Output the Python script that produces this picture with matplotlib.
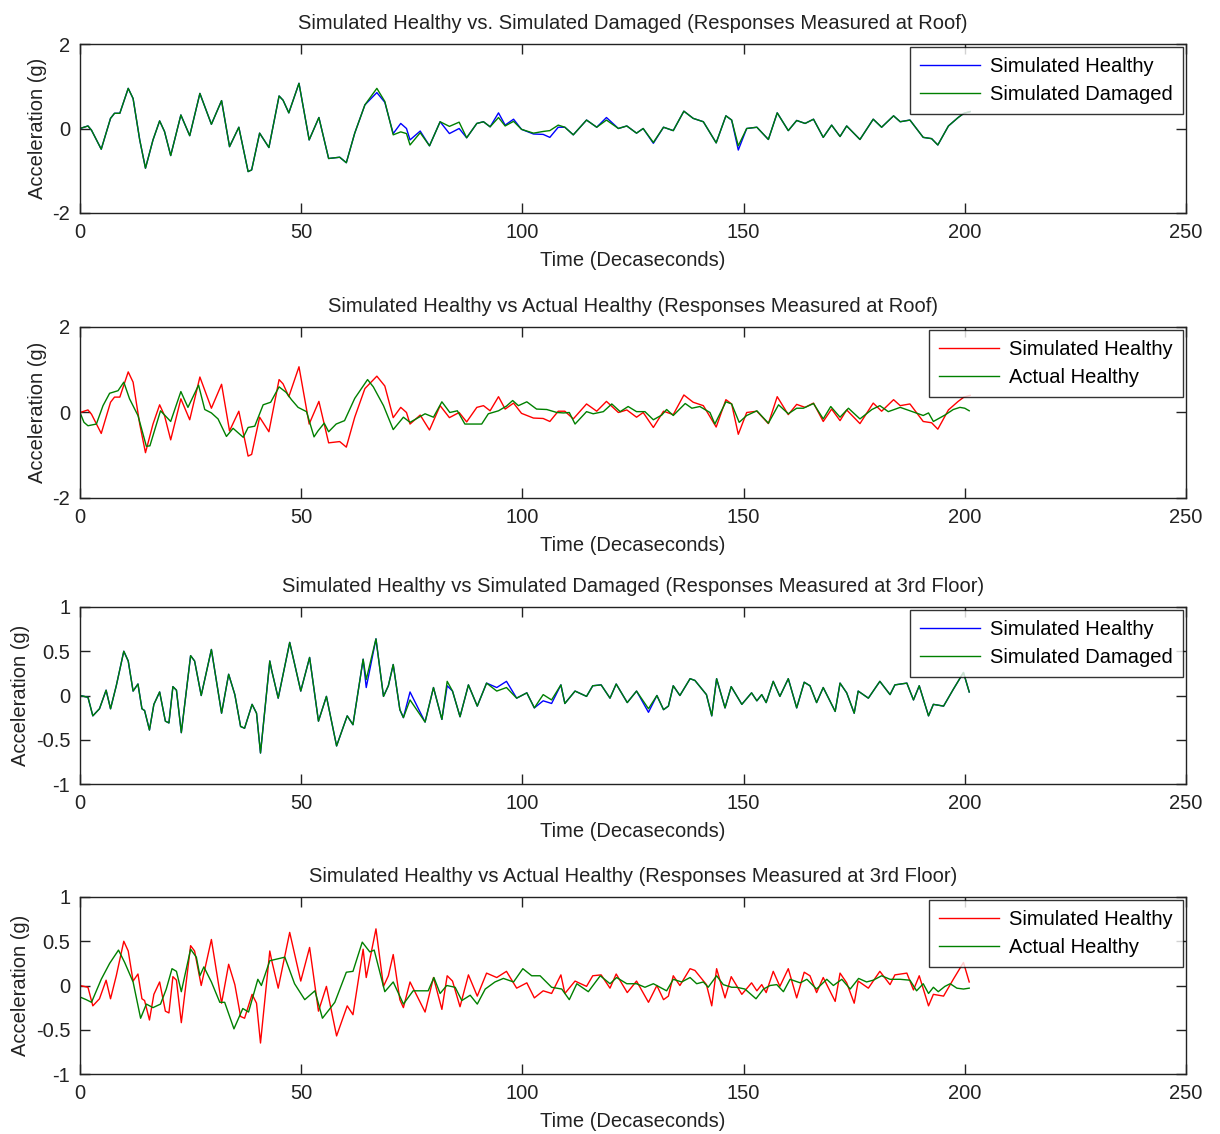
import numpy as np
import matplotlib
matplotlib.use("Agg")
import matplotlib.pyplot as plt

# --- roof responses -------------------------------------------------------
roof_sim_t = [
    0, 1.8, 2.6, 4.8, 6.9, 7.8, 9.0, 10.9, 12.0, 13.5,
    14.8, 16.5, 18.0, 19.1, 20.5, 22.8, 24.8, 27.1, 29.7, 32.0,
    33.8, 35.9, 38.0, 38.8, 40.6, 42.7, 45.0, 45.9, 47.2, 49.5,
    51.8, 54.0, 56.2, 58.7, 60.2, 62.1, 64.4, 67.1, 68.9, 70.8,
    72.5, 73.8, 74.6, 76.9, 79.0, 81.4, 83.5, 85.7, 87.4, 89.7,
    91.2, 92.7, 94.6, 96.1, 98.0, 99.8, 102.5, 104.7, 106.2, 108.1,
    109.6, 111.5, 114.5, 116.8, 119.0, 121.7, 123.6, 125.8, 127.3, 129.6,
    131.9, 134.1, 136.5, 138.6, 140.9, 143.8, 146.0, 147.3, 148.8, 150.7,
    153.0, 155.6, 157.6, 160.1, 162.0, 163.9, 165.8, 168.0, 169.9, 171.8,
    173.3, 176.3, 179.3, 181.2, 183.9, 185.4, 187.6, 190.6, 192.5, 193.9,
    196.3, 198.5, 199.8, 201.2,
]
roof_sim_healthy = [
    0, 0.06, -0.04, -0.49, 0.24, 0.36, 0.36, 0.95, 0.71, -0.27,
    -0.94, -0.27, 0.18, -0.07, -0.64, 0.32, -0.17, 0.83, 0.10, 0.66,
    -0.43, 0.03, -1.02, -0.98, -0.11, -0.45, 0.77, 0.67, 0.37, 1.07,
    -0.27, 0.26, -0.71, -0.68, -0.81, -0.11, 0.56, 0.85, 0.62, -0.12,
    0.12, 0.0, -0.27, -0.06, -0.41, 0.16, -0.12, 0.0, -0.22, 0.12,
    0.16, 0.04, 0.37, 0.08, 0.22, -0.02, -0.13, -0.14, -0.21, 0.03,
    0.03, -0.15, 0.20, 0.03, 0.26, 0.0, 0.06, -0.11, 0.0, -0.35,
    0.03, -0.05, 0.41, 0.24, 0.16, -0.34, 0.30, 0.20, -0.51, 0.0,
    0.03, -0.26, 0.37, -0.05, 0.19, 0.12, 0.22, -0.21, 0.08, -0.19,
    0.06, -0.26, 0.22, 0.03, 0.30, 0.16, 0.20, -0.21, -0.24, -0.39,
    0.06, 0.26, 0.36, 0.40,
]
roof_sim_damaged = [
    0, 0.06, -0.04, -0.49, 0.24, 0.36, 0.36, 0.95, 0.71, -0.27,
    -0.94, -0.27, 0.18, -0.07, -0.64, 0.32, -0.17, 0.83, 0.10, 0.66,
    -0.43, 0.03, -1.02, -0.98, -0.11, -0.45, 0.77, 0.67, 0.37, 1.07,
    -0.27, 0.26, -0.71, -0.68, -0.81, -0.11, 0.56, 0.95, 0.64, -0.15,
    -0.08, -0.12, -0.39, -0.10, -0.41, 0.16, 0.05, 0.15, -0.22, 0.12,
    0.16, 0.04, 0.26, 0.06, 0.17, -0.02, -0.11, -0.07, -0.05, 0.08,
    0.03, -0.15, 0.20, 0.03, 0.20, 0.0, 0.06, -0.11, 0.0, -0.33,
    0.03, -0.05, 0.41, 0.24, 0.16, -0.34, 0.30, 0.20, -0.41, 0.0,
    0.03, -0.26, 0.37, -0.05, 0.19, 0.12, 0.22, -0.21, 0.08, -0.19,
    0.06, -0.26, 0.22, 0.03, 0.30, 0.16, 0.20, -0.21, -0.24, -0.39,
    0.06, 0.26, 0.36, 0.40,
]

roof_act_t = [
    0, 0.9, 1.8, 3.7, 5.2, 6.7, 8.6, 9.9, 11.2, 13.1,
    15.0, 15.8, 18.2, 20.5, 22.8, 24.4, 26.8, 28.2, 29.7, 31.2,
    33.1, 34.6, 36.9, 38.0, 39.5, 41.4, 43.1, 45.0, 46.6, 47.8,
    49.3, 51.2, 52.9, 53.8, 55.2, 56.2, 57.9, 59.8, 62.1, 65.0,
    66.3, 68.6, 70.8, 73.1, 74.6, 78.0, 79.9, 81.8, 83.6, 85.3,
    87.0, 90.8, 92.3, 94.6, 96.4, 97.8, 99.1, 101.0, 103.2, 105.5,
    107.8, 109.3, 110.6, 111.9, 114.5, 116.0, 118.3, 120.2, 122.1, 123.9,
    125.8, 127.7, 129.6, 131.5, 132.6, 134.1, 136.8, 138.3, 140.1, 142.4,
    143.5, 146.0, 147.3, 149.0, 150.7, 153.0, 155.6, 157.9, 160.1, 162.0,
    163.5, 165.8, 168.0, 169.7, 171.8, 173.7, 176.3, 179.0, 180.8, 182.7,
    185.4, 188.7, 190.6, 191.8, 192.9, 195.5, 197.4, 198.9, 200.0, 201.0,
]
roof_act_healthy = [
    0, -0.23, -0.31, -0.27, 0.16, 0.45, 0.51, 0.71, 0.32, -0.07,
    -0.79, -0.78, 0.04, -0.21, 0.49, 0.12, 0.64, 0.07, -0.01, -0.15,
    -0.56, -0.37, -0.58, -0.35, -0.32, 0.18, 0.24, 0.60, 0.47, 0.30,
    0.12, 0.02, -0.57, -0.43, -0.25, -0.45, -0.27, -0.19, 0.33, 0.77,
    0.60, 0.16, -0.40, -0.11, -0.23, -0.03, -0.11, 0.25, 0.0, 0.04,
    -0.27, -0.27, -0.03, 0.04, 0.15, 0.28, 0.16, 0.25, 0.08, 0.07,
    0.0, -0.01, 0.0, -0.27, 0.02, -0.03, 0.02, 0.20, 0.02, 0.14,
    0.02, 0.02, -0.17, -0.06, 0.07, -0.07, 0.21, 0.10, 0.14, 0.0,
    -0.27, 0.25, 0.20, -0.23, -0.07, 0.04, -0.25, 0.18, -0.03, 0.10,
    0.10, 0.21, -0.15, 0.14, -0.11, 0.10, -0.15, 0.07, 0.16, 0.02,
    0.12, 0.0, -0.07, -0.01, -0.21, -0.06, 0.07, 0.12, 0.10, 0.04,
]

# --- 3rd floor responses --------------------------------------------------
flr3_sim_t = [
    0, 1.8, 2.9, 4.4, 5.9, 6.9, 8.2, 9.9, 10.9, 12.0,
    13.1, 14.0, 14.6, 15.7, 16.7, 18.0, 19.3, 20.1, 21.0, 21.8,
    22.9, 25.0, 25.9, 27.4, 29.7, 32.0, 33.6, 35.0, 36.3, 37.2,
    38.9, 39.9, 40.8, 42.9, 43.3, 44.8, 47.4, 49.9, 51.9, 53.9,
    55.7, 58.0, 60.4, 61.7, 64.0, 64.7, 66.9, 68.6, 69.7, 70.8,
    72.3, 73.1, 74.6, 78.0, 79.9, 81.8, 83.0, 84.2, 85.9, 87.8,
    89.8, 91.9, 94.2, 96.4, 98.7, 101.0, 102.7, 104.7, 106.6, 108.7,
    109.6, 111.9, 114.5, 115.9, 117.8, 119.8, 121.2, 123.7, 125.8, 128.5,
    130.4, 131.9, 133.0, 134.1, 135.6, 137.9, 139.0, 141.6, 142.8, 143.9,
    145.8, 147.2, 149.6, 151.8, 153.0, 154.1, 155.1, 156.7, 158.2, 160.1,
    162.0, 163.7, 165.0, 166.5, 168.0, 170.7, 171.8, 173.3, 175.0, 175.9,
    178.2, 180.8, 183.1, 184.2, 186.9, 188.4, 189.7, 191.8, 192.9, 195.2,
    197.4, 199.7, 201.0,
]
flr3_sim_healthy = [
    0, -0.02, -0.23, -0.15, 0.06, -0.15, 0.11, 0.50, 0.39, 0.05,
    0.13, -0.15, -0.17, -0.39, -0.10, 0.04, -0.29, -0.31, 0.10, 0.06,
    -0.42, 0.45, 0.39, 0.0, 0.52, -0.20, 0.24, 0.01, -0.35, -0.37,
    -0.10, -0.20, -0.65, 0.39, 0.29, -0.03, 0.60, 0.05, 0.43, -0.29,
    -0.01, -0.57, -0.23, -0.33, 0.41, 0.09, 0.64, -0.01, 0.11, 0.35,
    -0.16, -0.25, 0.04, -0.30, 0.09, -0.27, 0.11, 0.05, -0.24, 0.12,
    -0.12, 0.14, 0.09, 0.16, -0.03, 0.03, -0.14, -0.06, -0.09, 0.12,
    -0.09, 0.05, -0.01, 0.11, 0.12, -0.03, 0.13, -0.08, 0.05, -0.19,
    0.0, -0.16, -0.12, 0.11, 0.0, 0.19, 0.17, 0.01, -0.23, 0.19,
    -0.14, 0.10, -0.10, 0.03, -0.06, 0.01, -0.08, 0.16, -0.01, 0.19,
    -0.14, 0.15, 0.11, -0.08, 0.09, -0.18, 0.14, 0.03, -0.20, 0.05,
    -0.03, 0.16, 0.01, 0.12, 0.14, -0.05, 0.11, -0.23, -0.10, -0.12,
    0.07, 0.26, 0.04,
]
flr3_sim_damaged = [
    0, -0.02, -0.23, -0.15, 0.06, -0.15, 0.11, 0.50, 0.39, 0.05,
    0.13, -0.15, -0.17, -0.39, -0.10, 0.04, -0.29, -0.31, 0.10, 0.06,
    -0.42, 0.45, 0.39, 0.0, 0.52, -0.20, 0.24, 0.01, -0.35, -0.37,
    -0.10, -0.20, -0.65, 0.39, 0.29, -0.03, 0.60, 0.05, 0.43, -0.29,
    -0.01, -0.57, -0.23, -0.33, 0.41, 0.18, 0.64, -0.01, 0.11, 0.35,
    -0.16, -0.25, -0.05, -0.30, 0.09, -0.27, 0.16, 0.05, -0.24, 0.12,
    -0.12, 0.14, 0.05, 0.09, -0.03, 0.03, -0.14, 0.01, -0.05, 0.12,
    -0.09, 0.05, -0.01, 0.11, 0.12, -0.03, 0.13, -0.08, 0.05, -0.15,
    0.0, -0.16, -0.12, 0.11, 0.0, 0.19, 0.17, 0.01, -0.23, 0.19,
    -0.14, 0.10, -0.10, 0.03, -0.06, 0.01, -0.08, 0.16, -0.01, 0.19,
    -0.14, 0.15, 0.11, -0.08, 0.09, -0.18, 0.14, 0.03, -0.20, 0.05,
    -0.03, 0.16, 0.01, 0.12, 0.14, -0.05, 0.11, -0.23, -0.10, -0.12,
    0.07, 0.26, 0.04,
]

flr3_act_t = [
    0, 1.4, 2.6, 4.8, 6.7, 8.7, 10.1, 12.0, 13.7, 15.0,
    16.5, 18.2, 19.5, 20.8, 21.8, 22.9, 25.0, 26.3, 27.1, 28.0,
    29.7, 31.6, 32.7, 34.8, 36.8, 38.1, 40.2, 41.0, 42.9, 46.3,
    48.5, 50.8, 53.1, 54.8, 57.6, 60.2, 61.7, 63.8, 65.5, 66.5,
    68.9, 70.8, 73.1, 75.3, 78.7, 80.0, 81.4, 82.9, 84.8, 86.3,
    88.2, 89.8, 91.6, 93.8, 95.7, 98.0, 100.1, 102.1, 104.0, 106.6,
    108.9, 110.6, 112.3, 114.9, 117.6, 119.8, 121.3, 123.6, 125.8, 127.7,
    129.6, 131.1, 132.6, 134.1, 136.0, 137.9, 139.4, 140.9, 142.0, 143.9,
    145.4, 147.3, 148.4, 150.3, 152.8, 154.5, 156.0, 157.5, 159.0, 160.5,
    162.8, 164.3, 166.5, 168.8, 170.3, 172.2, 174.1, 176.0, 177.8, 179.3,
    181.2, 183.1, 185.4, 187.6, 189.1, 190.6, 191.8, 192.9, 194.0, 195.5,
    196.7, 198.2, 199.7, 201.0,
]
flr3_act_healthy = [
    -0.13, -0.16, -0.19, 0.07, 0.25, 0.40, 0.26, 0.04, -0.37, -0.21,
    -0.25, -0.21, -0.04, 0.19, 0.16, -0.07, 0.41, 0.32, 0.11, 0.21,
    0.04, -0.19, -0.19, -0.49, -0.26, -0.30, 0.07, 0.0, 0.28, 0.32,
    0.02, -0.16, -0.06, -0.37, -0.19, 0.15, 0.16, 0.49, 0.38, 0.40,
    -0.07, 0.04, -0.21, -0.06, -0.06, 0.09, -0.09, 0.0, -0.02, -0.17,
    -0.11, -0.21, -0.04, 0.04, 0.08, 0.04, 0.19, 0.11, 0.11, -0.02,
    -0.04, -0.16, 0.02, -0.07, 0.11, 0.02, 0.09, 0.02, 0.02, -0.02,
    0.02, -0.02, -0.06, 0.07, 0.04, 0.09, 0.02, 0.04, -0.02, 0.11,
    0.01, -0.02, -0.02, -0.04, -0.15, -0.04, 0.0, 0.01, -0.07, 0.07,
    0.03, 0.07, -0.04, 0.07, 0.0, 0.07, -0.04, 0.08, 0.04, 0.06,
    0.11, 0.07, 0.07, 0.06, -0.06, 0.02, -0.09, -0.02, -0.07, -0.01,
    0.02, -0.03, -0.04, -0.03,
]

BLUE = "#0000ff"
GREEN = "#008000"
RED = "#ff0000"
INK = "#222222"
FS = 14.5

plt.rcParams["font.family"] = ["Liberation Sans", "DejaVu Sans"]
plt.rcParams["font.size"] = FS
plt.rcParams["axes.unicode_minus"] = False

fig = plt.figure(figsize=(12.2, 11.34), dpi=100)

# axes boxes in figure pixels: top, bottom
W, H = 1220.0, 1134.0
boxes = [(44, 213), (327, 498), (607, 784), (897, 1074)]

panels = [
    ("Simulated Healthy vs. Simulated Damaged (Responses Measured at Roof)",
     (roof_sim_t, roof_sim_healthy, BLUE, "Simulated Healthy"),
     (roof_sim_t, roof_sim_damaged, GREEN, "Simulated Damaged"),
     (-2, 2), [-2, 0, 2]),
    ("Simulated Healthy vs Actual Healthy (Responses Measured at Roof)",
     (roof_sim_t, roof_sim_healthy, RED, "Simulated Healthy"),
     (roof_act_t, roof_act_healthy, GREEN, "Actual Healthy"),
     (-2, 2), [-2, 0, 2]),
    ("Simulated Healthy vs Simulated Damaged (Responses Measured at 3rd Floor)",
     (flr3_sim_t, flr3_sim_healthy, BLUE, "Simulated Healthy"),
     (flr3_sim_t, flr3_sim_damaged, GREEN, "Simulated Damaged"),
     (-1, 1), [-1, -0.5, 0, 0.5, 1]),
    ("Simulated Healthy vs Actual Healthy (Responses Measured at 3rd Floor)",
     (flr3_sim_t, flr3_sim_healthy, RED, "Simulated Healthy"),
     (flr3_act_t, flr3_act_healthy, GREEN, "Actual Healthy"),
     (-1, 1), [-1, -0.5, 0, 0.5, 1]),
]

for (top, bot), (title, s1, s2, ylim, yticks) in zip(boxes, panels):
    ax = fig.add_axes([80 / W, 1 - bot / H, 1106 / W, (bot - top) / H])
    for t, v, c, lab in (s1, s2):
        ax.plot(t, v, color=c, lw=1.0, label=lab)
    ax.set_xlim(0, 250)
    ax.set_ylim(*ylim)
    ax.set_xticks(np.arange(0, 251, 50))
    ax.set_yticks(yticks)
    ax.set_yticklabels([("%g" % y) for y in yticks])
    ax.tick_params(direction="in", length=7, width=1, top=True, right=True,
                   pad=7, labelsize=FS, colors=INK)
    for sp in ax.spines.values():
        sp.set_linewidth(1.0)
        sp.set_color(INK)
    ax.set_title(title, fontsize=FS, pad=11, color=INK)
    ax.set_xlabel("Time (Decaseconds)", fontsize=FS, labelpad=7, color=INK)
    ax.set_ylabel("Acceleration (g)", fontsize=FS, labelpad=4, color=INK)
    leg = ax.legend(loc="upper right", fontsize=FS, frameon=True, fancybox=False,
                    edgecolor="black", handlelength=3.0, handletextpad=0.5,
                    labelspacing=0.45, borderpad=0.5, borderaxespad=0.15)
    leg.get_frame().set_linewidth(1.0)

fig.savefig("out.png", dpi=100)
